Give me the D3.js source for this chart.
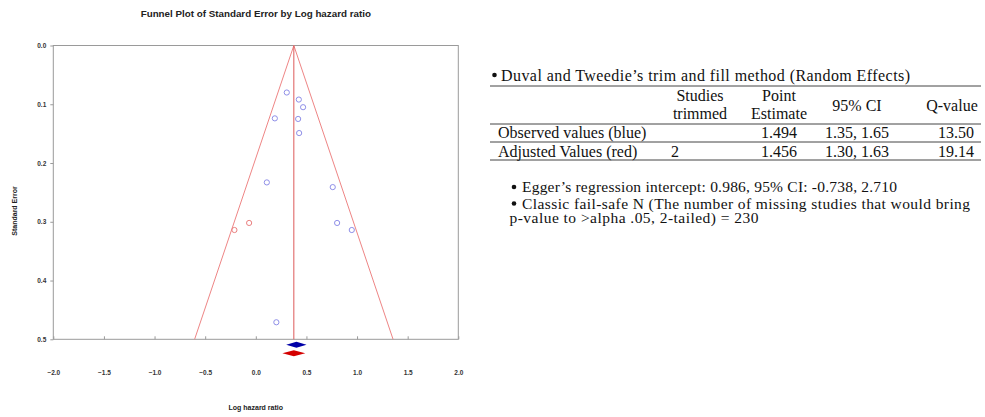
<!DOCTYPE html>
<html>
<head>
<meta charset="utf-8">
<script src="https://cdn.jsdelivr.net/npm/d3@7"></script>
<style>
  body { margin: 0; background: #fff; }
  svg { display: block; }
</style>
</head>
<body>
<svg id="chart" width="985" height="417"></svg>
<script>
// observed studies (blue) - log hazard ratio and standard error
var obsLogHR = [0.306, 0.425, 0.467, 0.188, 0.418, 0.428, 0.109, 0.760, 0.803, 0.948, 0.203];
var obsSE    = [0.080, 0.092, 0.105, 0.124, 0.125, 0.149, 0.233, 0.241, 0.302, 0.314, 0.471];
// imputed studies (red) from trim and fill
var impLogHR = [-0.066, -0.211];
var impSE    = [0.302, 0.314];

// summary estimates as hazard ratios [point, lower, upper]
var observedHR = [1.494, 1.35, 1.65];
var adjustedHR = [1.456, 1.30, 1.63];

var xTicks = [-2.0, -1.5, -1.0, -0.5, 0.0, 0.5, 1.0, 1.5, 2.0];
var yTicks = [0.0, 0.1, 0.2, 0.3, 0.4, 0.5];

// table text
var tableTitle = "Duval and Tweedie\u2019s trim and fill method (Random Effects)";
var headers = [["Studies", "trimmed"], ["Point", "Estimate"], ["95% CI"], ["Q-value"]];
var rowLabels = ["Observed values (blue)", "Adjusted Values (red)"];
var rowTrimmed = ["", "2"];
var rowPoint = ["1.494", "1.456"];
var rowCI = ["1.35, 1.65", "1.30, 1.63"];
var rowQ = ["13.50", "19.14"];
var notes = [
  ["Egger\u2019s regression intercept: 0.986, 95% CI: -0.738, 2.710"],
  ["Classic fail-safe N (The number of missing studies that would bring", "p-value to >alpha .05, 2-tailed) = 230"]
];

var svg = d3.select("#chart");
var sans = "'Liberation Sans', Arial, sans-serif";
var serif = "'Liberation Serif', 'Times New Roman', serif";

var x = d3.scaleLinear().domain([-2, 2]).range([53.3, 458.3]);
var y = d3.scaleLinear().domain([0, 0.5]).range([45.5, 339.3]);

// title
svg.append("text")
  .attr("x", 255.8).attr("y", 17)
  .attr("text-anchor", "middle")
  .style("font-family", sans).style("font-weight", "bold").style("font-size", "9.8px")
  .style("fill", "#222")
  .text("Funnel Plot of Standard Error by Log hazard ratio");

// frame
svg.append("rect")
  .attr("x", x(-2)).attr("y", y(0))
  .attr("width", x(2) - x(-2)).attr("height", y(0.5) - y(0))
  .attr("fill", "none").attr("stroke", "#9a9a9a").attr("stroke-width", 1);

// axes
var yAxis = d3.axisLeft(y).tickValues(yTicks).tickFormat(d3.format(".1f"))
  .tickSize(3).tickPadding(4);
var gy = svg.append("g").attr("transform", "translate(" + x(-2) + ",0)").call(yAxis);

var xAxis = d3.axisBottom(x).tickValues(xTicks).tickFormat(d3.format(".1f"))
  .tickSizeInner(-3).tickSizeOuter(0).tickPadding(31);
var gx = svg.append("g").attr("transform", "translate(0," + y(0.5) + ")").call(xAxis);

[gx, gy].forEach(function (g) {
  g.select(".domain").remove();
  g.selectAll("line").attr("stroke", "#9a9a9a");
  g.selectAll("text")
    .style("font-family", sans).style("font-weight", "bold").style("font-size", "6.5px")
    .style("fill", "#333");
});

// axis titles
svg.append("text")
  .attr("transform", "translate(17,211) rotate(-90)")
  .attr("text-anchor", "middle")
  .style("font-family", sans).style("font-weight", "bold").style("font-size", "7px")
  .style("fill", "#222")
  .text("Standard Error");

svg.append("text")
  .attr("x", 255.8).attr("y", 409.5)
  .attr("text-anchor", "middle")
  .style("font-family", sans).style("font-weight", "bold").style("font-size", "7px")
  .style("fill", "#222")
  .text("Log hazard ratio");

// funnel around adjusted estimate
var center = Math.log(adjustedHR[0]);
var seMax = 0.5;
var funnel = [[center - 1.96 * seMax, seMax], [center, 0], [center + 1.96 * seMax, seMax]];
svg.append("path")
  .attr("d", d3.line().x(function (d) { return x(d[0]); }).y(function (d) { return y(d[1]); })(funnel))
  .attr("fill", "none").attr("stroke", "#ee8585").attr("stroke-width", 1);
svg.append("line")
  .attr("x1", x(center)).attr("x2", x(center))
  .attr("y1", y(0)).attr("y2", y(seMax))
  .attr("stroke", "#dd5a5a").attr("stroke-width", 1);

// study points
var obsPts = obsLogHR.map(function (v, i) { return [v, obsSE[i]]; });
var impPts = impLogHR.map(function (v, i) { return [v, impSE[i]]; });

svg.append("g").selectAll("circle").data(obsPts).enter().append("circle")
  .attr("cx", function (d) { return x(d[0]); })
  .attr("cy", function (d) { return y(d[1]); })
  .attr("r", 2.6)
  .attr("fill", "none").attr("stroke", "#8f8fe8").attr("stroke-width", 1);

svg.append("g").selectAll("circle").data(impPts).enter().append("circle")
  .attr("cx", function (d) { return x(d[0]); })
  .attr("cy", function (d) { return y(d[1]); })
  .attr("r", 2.6)
  .attr("fill", "none").attr("stroke", "#ea8080").attr("stroke-width", 1);

// summary diamonds
function diamond(hr, cy, h) {
  var lo = x(Math.log(hr[1])), pt = x(Math.log(hr[0])), hi = x(Math.log(hr[2]));
  return "M" + lo + "," + cy + "L" + pt + "," + (cy - h) + "L" + hi + "," + cy + "L" + pt + "," + (cy + h) + "Z";
}
svg.append("path").attr("d", diamond(observedHR, 344.8, 3)).attr("fill", "#0000a8");
svg.append("path").attr("d", diamond(adjustedHR, 353.2, 3)).attr("fill", "#d40000");

// ---------- right hand table ----------
var t = svg.append("g").style("font-family", serif).style("font-size", "16px").style("fill", "#111");

t.append("circle").attr("cx", 494.5).attr("cy", 75).attr("r", 2.3).attr("fill", "#111");
t.append("text").attr("x", 501).attr("y", 80.5)
  .attr("textLength", 409).attr("lengthAdjust", "spacing").text(tableTitle);

[86, 124, 142, 160].forEach(function (ly) {
  t.append("line").attr("x1", 490).attr("x2", 981).attr("y1", ly).attr("y2", ly)
    .attr("stroke", "#444").attr("stroke-width", 1);
});

var headX = [700, 779, 857, 952];
headers.forEach(function (lines, i) {
  var tx = t.append("text").attr("text-anchor", "middle");
  if (lines.length === 2) {
    tx.append("tspan").attr("x", headX[i]).attr("y", 101).text(lines[0]);
    tx.append("tspan").attr("x", headX[i]).attr("y", 119).text(lines[1]);
  } else {
    tx.attr("x", headX[i]).attr("y", 110.5).text(lines[0]);
  }
});

var rowY = [138, 156.5];
var cellX = [675, 779, 857, 956];
rowLabels.forEach(function (lab, r) {
  t.append("text").attr("x", 498).attr("y", rowY[r]).text(lab);
  [rowTrimmed[r], rowPoint[r], rowCI[r], rowQ[r]].forEach(function (v, c) {
    t.append("text").attr("x", cellX[c]).attr("y", rowY[r]).attr("text-anchor", "middle").text(v);
  });
});

// bullet notes
var noteY = [[192], [208.5, 223]];
var noteW = [[375], [448, 249]];
var n = svg.append("g").style("font-family", serif).style("font-size", "15.5px").style("fill", "#111");
notes.forEach(function (lines, i) {
  n.append("circle").attr("cx", 514).attr("cy", noteY[i][0] - 5).attr("r", 2.3).attr("fill", "#111");
  lines.forEach(function (s, j) {
    n.append("text").attr("x", j === 0 ? 522 : 509.5).attr("y", noteY[i][j])
      .attr("textLength", noteW[i][j]).attr("lengthAdjust", "spacing").text(s);
  });
});
</script>
</body>
</html>
